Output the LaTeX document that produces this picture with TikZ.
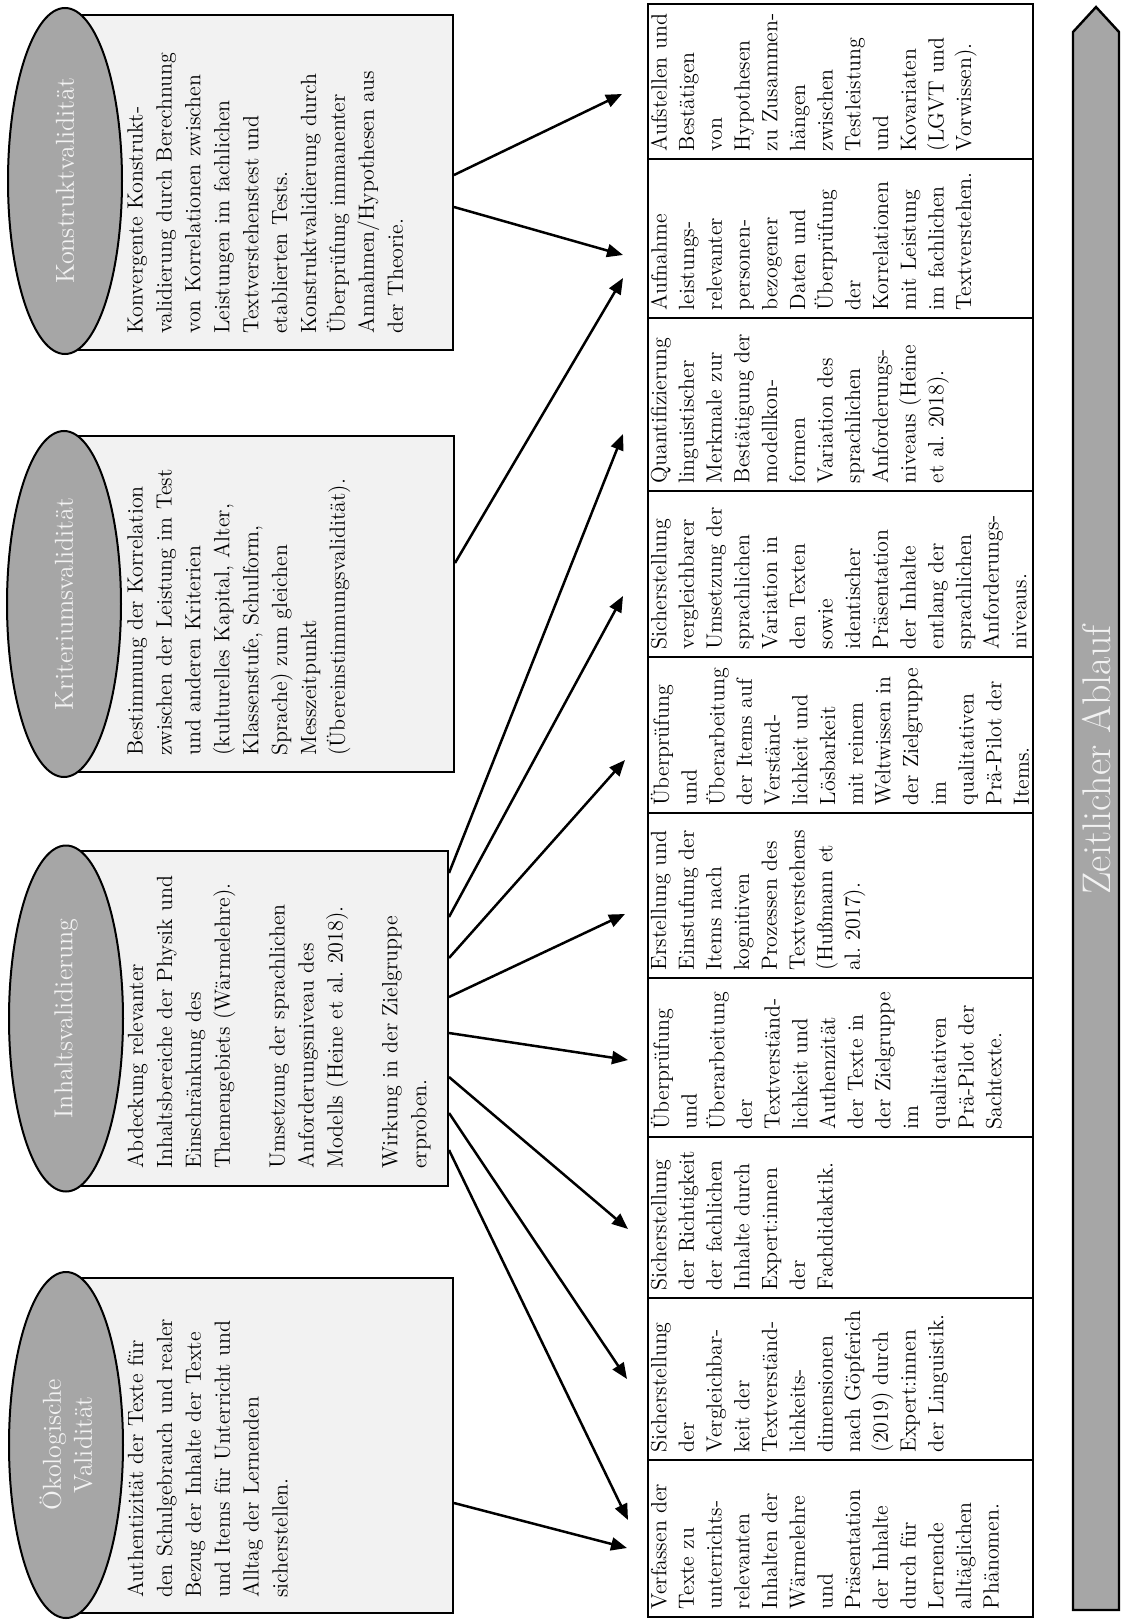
\documentclass[tikz,border=0pt]{standalone}
\usepackage{fontspec}
\usetikzlibrary{shapes.geometric,arrows.meta}
\definecolor{panelfill}{HTML}{F2F2F2}
\definecolor{ovalfill}{HTML}{A6A6A6}
\definecolor{ovaltext}{HTML}{F2F2F2}
\frenchspacing
\begin{document}
\begin{tikzpicture}[x=0.5pt,y=-0.5pt,
  panel/.style={draw, line width=1pt, fill=panelfill, inner sep=0pt},
  oval/.style={ellipse, draw, line width=1pt, fill=ovalfill, rotate=90, inner sep=0pt,
    minimum width=173pt, minimum height=57pt, text=ovaltext, align=center,
    font=\fontsize{13}{15.5}\selectfont},
  paneltext/.style={rotate=90, anchor=north west, inner sep=0pt, text width=175pt,
    align=left, font=\fontsize{11}{14.45}\selectfont},
  cell/.style={draw, line width=0.6pt, inner sep=0pt, minimum width=192.5pt},
  celltext/.style={rotate=90, anchor=north west, inner sep=0pt, text width=95pt,
    align=left, font=\fontsize{11}{13.85}\selectfont},
  link/.style={line width=1.25pt, -{Triangle[length=8pt,width=6.5pt]}},
  timeline/.style={draw, line width=1.2pt, fill=ovalfill, line join=miter},
]
\fill[white] (0,0) rectangle (1121,1621);
\useasboundingbox (0,0) rectangle (1121,1621);

% ---------- validity panels ----------
\node[panel, minimum width=194pt, minimum height=167.5pt] (kbox) at (259,182.5) {};
\node[panel, minimum width=194.5pt, minimum height=168pt] (rbox) at (259.5,604) {};
\node[panel, minimum width=191.5pt, minimum height=167.5pt] (ibox) at (256.5,1018.5) {};
\node[panel, minimum width=194pt, minimum height=167.5pt] (obox) at (259,1445.5) {};

\node[oval] (koval) at (65,181) {Konstruktvalidität};
\node[oval] (roval) at (64,604) {Kriteriumsvalidität};
\node[oval] (ioval) at (66,1018.5) {Inhaltsvalidierung};
\node[oval] (ooval) at (66,1445) {Ökologische\\Validität};

\node[paneltext] (ktext) at ([xshift=31.5pt,yshift=8.5pt]kbox.south west)
  {Konvergente Konstrukt-\\
   validierung durch Berechnung\\
   von Korrelationen zwischen\\
   Leistungen im fachlichen\\
   Textverstehenstest und\\
   etablierten Tests.\\
   Konstruktvalidierung durch\\
   Überprüfung immanenter\\
   Annahmen/Hypothesen aus\\
   der Theorie.};

\node[paneltext] (rtext) at ([xshift=31.5pt,yshift=8.5pt]rbox.south west)
  {Bestimmung der Korrelation\\
   zwischen der Leistung im Test\\
   und anderen Kriterien\\
   (kulturelles Kapital, Alter,\\
   Klassenstufe, Schulform,\\
   Sprache) zum gleichen\\
   Messzeitpunkt\\
   (Übereinstimmungsvalidität).};

\node[paneltext] (itext) at ([xshift=31.5pt,yshift=9pt]ibox.south west)
  {Abdeckung relevanter\\
   Inhaltsbereiche der Physik und\\
   Einschränkung des\\
   Themengebiets (Wärmelehre).\\[13pt]
   Umsetzung der sprachlichen\\
   Anforderungsniveau des\\
   Modells (Heine et al. 2018).\\[13pt]
   Wirkung in der Zielgruppe\\
   erproben.};

\node[paneltext] (otext) at ([xshift=31.5pt,yshift=8pt]obox.south west)
  {Authentizität der Texte für\\
   den Schulgebrauch und realer\\
   Bezug der Inhalte der Texte\\
   und Items für Unterricht und\\
   Alltag der Lernenden\\
   sicherstellen.};

% ---------- process table ----------
\node[cell, minimum height=78.5pt] (c1) at (840.5,1538.5) {};
\node[cell, minimum height=81pt]   (c2) at (840.5,1379) {};
\node[cell, minimum height=80.5pt] (c3) at (840.5,1217.5) {};
\node[cell, minimum height=79.5pt] (c4) at (840.5,1057.5) {};
\node[cell, minimum height=82.5pt] (c5) at (840.5,895.5) {};
\node[cell, minimum height=78pt]   (c6) at (840.5,735) {};
\node[cell, minimum height=83pt]   (c7) at (840.5,574) {};
\node[cell, minimum height=86.5pt] (c8) at (840.5,404.5) {};
\node[cell, minimum height=79.5pt] (c9) at (840.5,238.5) {};
\node[cell, minimum height=77.5pt] (c10) at (840.5,81.5) {};

\node[celltext] (t1) at ([xshift=1.5pt,yshift=4pt]c1.south west)
  {Verfassen der\\ Texte zu\\ unterrichts-\\ relevanten\\ Inhalten der\\ Wärmelehre\\ und\\
   Präsentation\\ der Inhalte\\ durch für\\ Lernende\\ alltäglichen\\ Phänomen.};
\node[celltext] (t2) at ([xshift=1.5pt,yshift=4pt]c2.south west)
  {Sicherstellung\\ der\\ Vergleichbar-\\ keit der\\ Textverständ-\\ lichkeits-\\
   dimensionen\\ nach Göpferich\\ (2019) durch\\ Expert:innen\\ der Linguistik.};
\node[celltext] (t3) at ([xshift=1.5pt,yshift=4pt]c3.south west)
  {Sicherstellung\\ der Richtigkeit\\ der fachlichen\\ Inhalte durch\\ Expert:innen\\ der\\
   Fachdidaktik.};
\node[celltext] (t4) at ([xshift=1.5pt,yshift=4pt]c4.south west)
  {Überprüfung\\ und\\ Überarbeitung\\ der\\ Textverständ-\\ lichkeit und\\ Authenzität\\
   der Texte in\\ der Zielgruppe\\ im\\ qualitativen\\ Prä-Pilot der\\ Sachtexte.};
\node[celltext] (t5) at ([xshift=1.5pt,yshift=4pt]c5.south west)
  {Erstellung und\\ Einstufung der\\ Items nach\\ kognitiven\\ Prozessen des\\
   Textverstehens\\ (Hußmann et\\ al. 2017).};
\node[celltext] (t6) at ([xshift=1.5pt,yshift=4pt]c6.south west)
  {Überprüfung\\ und\\ Überarbeitung\\ der Items auf\\ Verständ-\\ lichkeit und\\ Lösbarkeit\\
   mit reinem\\ Weltwissen in\\ der Zielgruppe\\ im\\ qualitativen\\ Prä-Pilot der\\ Items.};
\node[celltext] (t7) at ([xshift=1.5pt,yshift=4pt]c7.south west)
  {Sicherstellung\\ vergleichbarer\\ Umsetzung der\\ sprachlichen\\ Variation in\\ den Texten\\
   sowie\\ identischer\\ Präsentation\\ der Inhalte\\ entlang der\\ sprachlichen\\
   Anforderungs-\\ niveaus.};
\node[celltext] (t8) at ([xshift=1.5pt,yshift=4pt]c8.south west)
  {Quantifizierung\\ linguistischer\\ Merkmale zur\\ Bestätigung der\\ modellkon-\\ formen\\
   Variation des\\ sprachlichen\\ Anforderungs-\\ niveaus (Heine\\ et al. 2018).};
\node[celltext] (t9) at ([xshift=1.5pt,yshift=4pt]c9.south west)
  {Aufnahme\\ leistungs-\\ relevanter\\ personen-\\ bezogener\\ Daten und\\ Überprüfung\\
   der\\ Korrelationen\\ mit Leistung\\ im fachlichen\\ Textverstehen.};
\node[celltext] (t10) at ([xshift=1.5pt,yshift=4pt]c10.south west)
  {Aufstellen und\\ Bestätigen\\ von\\ Hypothesen\\ zu Zusammen-\\ hängen\\ zwischen\\
   Testleistung\\ und\\ Kovariaten\\ (LGVT und\\ Vorwissen).};

% ---------- time arrow ----------
\draw[timeline] (1073,1610) -- (1073,32) -- (1096,7) -- (1119,32) -- (1119,1610) -- cycle;
\node[rotate=90, text=ovaltext, font=\fontsize{20}{24}\selectfont, inner sep=0pt]
  (zeit) at (1097,760) {Zeitlicher Ablauf};

% ---------- arrow targets in front of the table ----------
\coordinate (e10)  at (622,94);
\coordinate (e9a)  at (623,255);
\coordinate (e9b)  at (623,278);
\coordinate (e8)   at (623,434);
\coordinate (e7)   at (623,596);
\coordinate (e6)   at (625,760);
\coordinate (e5)   at (625,914);
\coordinate (e4)   at (628,1060);
\coordinate (e3)   at (628,1229);
\coordinate (e2)   at (627,1379);
\coordinate (e1a)  at (628,1520);
\coordinate (e1b)  at (627,1548);

% ---------- connectors ----------
\draw[link] ([yshift=3.75pt]kbox.east) -- (e10);
\draw[link] ([yshift=-12.25pt]kbox.east) -- (e9a);
\draw[link] ([yshift=20.5pt]rbox.east) -- (e9b);
\draw[link] ([yshift=72.75pt]ibox.east) -- (e8);
\draw[link] ([yshift=50.75pt]ibox.east) -- (e7);
\draw[link] ([yshift=30.25pt]ibox.east) -- (e6);
\draw[link] ([yshift=10.75pt]ibox.east) -- (e5);
\draw[link] ([yshift=-7.25pt]ibox.east) -- (e4);
\draw[link] ([yshift=-29.25pt]ibox.east) -- (e3);
\draw[link] ([yshift=-47.25pt]ibox.east) -- (e2);
\draw[link] ([yshift=-65.75pt]ibox.east) -- (e1a);
\draw[link] ([yshift=-28.75pt]obox.east) -- (e1b);
\end{tikzpicture}
\end{document}
